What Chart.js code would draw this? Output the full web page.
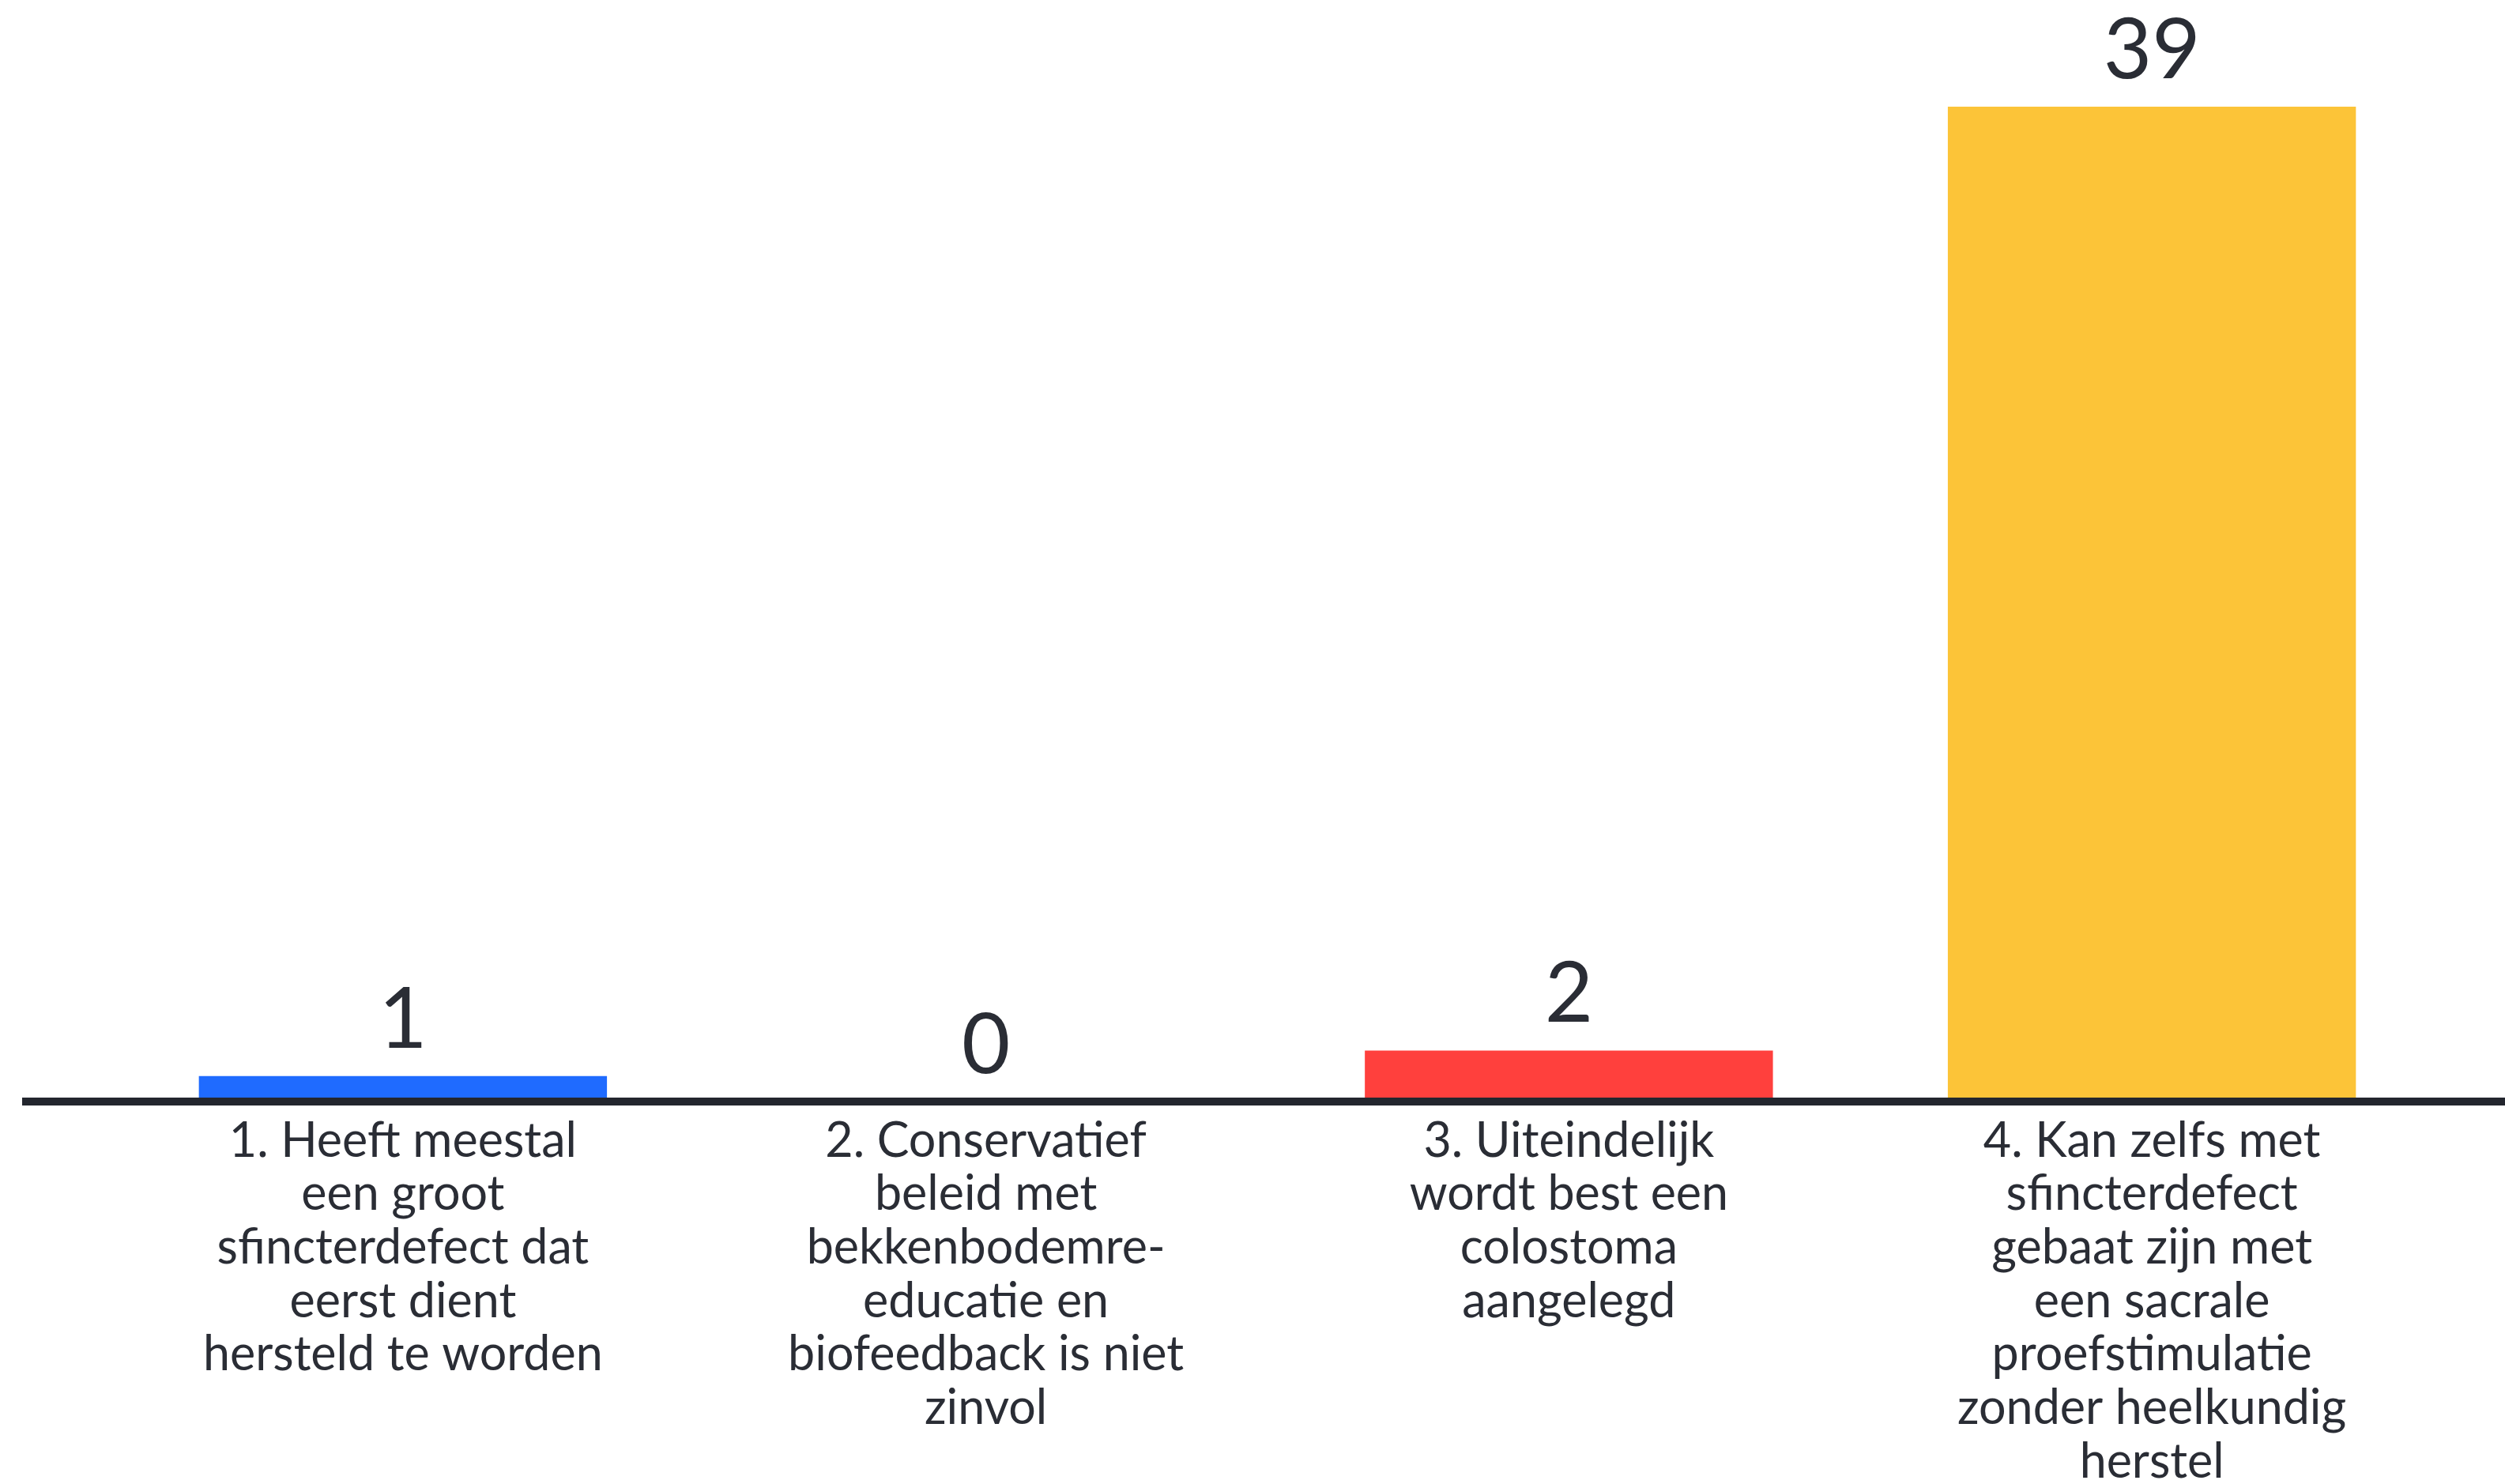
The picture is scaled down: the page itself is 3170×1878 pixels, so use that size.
<!DOCTYPE html>
<html>
<head>
<meta charset="utf-8">
<script src="https://cdn.jsdelivr.net/npm/chart.js@4/dist/chart.umd.min.js"></script>
<style>
  html, body { margin: 0; padding: 0; background: #fff; }
  #wrap { width: 3170px; height: 1878px; position: relative; }
</style>
</head>
<body>
<div id="wrap"><canvas id="voteChart"></canvas></div>
<script>
// antwoorden (elke regel = een regel onder de balk)
const categories = [
  ['1. Heeft meestal', 'een groot', 'sfincterdefect dat', 'eerst dient', 'hersteld te worden'],
  ['2. Conservatief', 'beleid met', 'bekkenbodemre-', 'educatie en', 'biofeedback is niet', 'zinvol'],
  ['3. Uiteindelijk', 'wordt best een', 'colostoma', 'aangelegd'],
  ['4. Kan zelfs met', 'sfincterdefect', 'gebaat zijn met', 'een sacrale', 'proefstimulatie', 'zonder heelkundig', 'herstel']
];
const votes = [1, 0, 2, 39];
const barColors = ['#1f6bff', '#00b98c', '#ff403d', '#fcc438'];

const textColor = '#2a2d35';
const axisColor = '#23262e';
const fontFamily = 'Lato, "Open Sans", sans-serif';

// aantallen boven de balken
const valueLabels = {
  id: 'valueLabels',
  afterDatasetsDraw(chart) {
    const ctx = chart.ctx;
    const meta = chart.getDatasetMeta(0);
    ctx.save();
    ctx.fillStyle = textColor;
    ctx.font = '106px ' + fontFamily;
    ctx.textAlign = 'center';
    ctx.textBaseline = 'alphabetic';
    meta.data.forEach((bar, i) => {
      ctx.fillText(String(votes[i]), bar.x, bar.y - 36);
    });
    ctx.restore();
  }
};

// dikke basislijn over de volle breedte
const baseLine = {
  id: 'baseLine',
  afterDatasetsDraw(chart) {
    const ctx = chart.ctx;
    const y = chart.scales.y.getPixelForValue(0);
    ctx.save();
    ctx.strokeStyle = axisColor;
    ctx.lineWidth = 10;
    ctx.beginPath();
    ctx.moveTo(28, y);
    ctx.lineTo(chart.width, y);
    ctx.stroke();
    ctx.restore();
  }
};

new Chart(document.getElementById('voteChart'), {
  type: 'bar',
  data: {
    labels: categories,
    datasets: [{
      data: votes,
      backgroundColor: barColors,
      borderWidth: 0,
      barPercentage: 0.7,
      categoryPercentage: 1.0
    }]
  },
  options: {
    responsive: true,
    maintainAspectRatio: false,
    animation: false,
    layout: { padding: { top: 135, left: 141, right: 78, bottom: -14 } },
    plugins: {
      legend: { display: false },
      tooltip: { enabled: false },
      title: { display: false }
    },
    scales: {
      x: {
        grid: { display: false },
        border: { display: false },
        ticks: {
          color: textColor,
          font: { family: fontFamily, size: 61, lineHeight: 1.11 },
          padding: 8,
          maxRotation: 0,
          autoSkip: false
        }
      },
      y: {
        display: false,
        min: 0,
        max: 39
      }
    }
  },
  plugins: [valueLabels, baseLine]
});
</script>
</body>
</html>
